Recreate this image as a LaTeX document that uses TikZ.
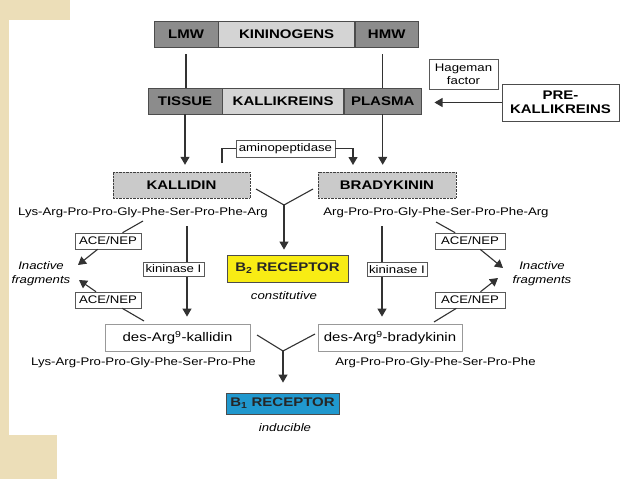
\documentclass[tikz,border=0pt]{standalone}
\usepackage{fontspec}
\setmainfont{Liberation Sans}[FakeStretch=1.2]
\usetikzlibrary{positioning,arrows.meta}

\definecolor{barDark}{RGB}{140,140,140}
\definecolor{barLight}{RGB}{212,212,212}
\definecolor{pepGray}{RGB}{202,202,202}
\definecolor{recYellow}{RGB}{248,236,20}
\definecolor{recBlue}{RGB}{32,152,206}
\definecolor{slideBeige}{RGB}{236,222,184}
\definecolor{lineGray}{RGB}{50,50,50}

\begin{document}
\begin{tikzpicture}[
    x=1pt,
    y=-1pt,
    bar/.style={
        rectangle,
        draw=gray!60!black,
        line width=0.6pt,
        minimum height=26pt,
        inner sep=0pt,
        font=\bfseries\fontsize{12.5}{14}\selectfont
    },
    dark/.style={bar, fill=barDark},
    light/.style={bar, fill=barLight},
    peptide/.style={
        rectangle,
        draw=gray!50!black,
        densely dotted,
        fill=pepGray,
        minimum height=26pt,
        inner sep=0pt,
        font=\bfseries\fontsize{12.5}{14}\selectfont
    },
    precursor/.style={
        rectangle,
        draw=gray!60!black,
        fill=white,
        align=center,
        inner sep=0pt,
        font=\bfseries\fontsize{12.5}{14}\selectfont
    },
    enzyme/.style={
        rectangle,
        draw=gray!70!black,
        fill=white,
        line width=0.6pt,
        inner sep=1pt,
        minimum height=16pt,
        font=\fontsize{11}{13}\selectfont
    },
    metab/.style={
        rectangle,
        draw=gray!80,
        fill=white,
        line width=0.8pt,
        minimum height=27pt,
        inner sep=0pt,
        font=\fontsize{12.5}{15}\selectfont
    },
    receptor/.style={
        rectangle,
        draw=gray!60!black,
        line width=0.8pt,
        inner sep=0pt,
        text=black!85,
        font=\bfseries\fontsize{12.5}{14}\selectfont
    },
    seq/.style={font=\fontsize{11}{13}\selectfont},
    note/.style={align=center, font=\itshape\fontsize{11}{14}\selectfont},
    link/.style={draw=lineGray, line width=1.1pt},
    flow/.style={
        link,
        ->,
        >={Triangle[length=8pt,width=9pt]}
    }
]

% Slide background
\useasboundingbox (0,0) rectangle (638,479);
\fill[white] (0,0) rectangle (638,479);
\fill[slideBeige] (0,0) rectangle (70,20);
\fill[slideBeige] (0,0) rectangle (9,479);
\fill[slideBeige] (0,435) rectangle (57,479);

% Kininogens and kallikreins
\node [dark, minimum width=64pt] (lmw) at (186,34) {LMW};
\node [light, minimum width=136pt, right=0pt of lmw] (kin) {KININOGENS};
\node [dark, minimum width=63pt, right=0pt of kin] (hmw) {HMW};

\node [dark, minimum width=74pt] (tissue) at (185,101) {TISSUE};
\node [light, minimum width=121pt, right=0pt of tissue] (kall) {KALLIKREINS};
\node [dark, minimum width=77pt, right=0pt of kall] (plasma) {PLASMA};

\node [enzyme, minimum width=69pt, minimum height=30pt, align=center] (hageman) at (463.5,74) {Hageman\\factor};
\node [precursor, minimum width=117pt, minimum height=37pt] (prekall) at (560.5,102.5) {PRE-\\KALLIKREINS};

% Kinins
\node [enzyme, minimum width=99pt, minimum height=17pt] (aminop) at (285.5,148.5) {aminopeptidase};
\node [peptide, minimum width=137pt] (kallidin) at (181.5,185) {KALLIDIN};
\node [peptide, minimum width=138pt] (brady) at (387,185) {BRADYKININ};
\node [seq] (seqk) at (143,213) {Lys-Arg-Pro-Pro-Gly-Phe-Ser-Pro-Phe-Arg};
\node [seq] (seqb) at (436,213) {Arg-Pro-Pro-Gly-Phe-Ser-Pro-Phe-Arg};

\node [receptor, fill=recYellow, minimum width=121pt, minimum height=27pt] (b2) at (287.5,268.5) {B\textsubscript{2} RECEPTOR};
\node [note] (constit) at (284,296) {constitutive};

% Degradation
\node [enzyme, minimum width=66pt] (acek1) at (108,241) {ACE/NEP};
\node [enzyme, minimum width=66pt] (acek2) at (108,300) {ACE/NEP};
\node [note] (inactk) at (41,274) {Inactive\\fragments};
\node [enzyme, minimum width=70pt] (aceb1) at (470,241) {ACE/NEP};
\node [enzyme, minimum width=70pt] (aceb2) at (470,300) {ACE/NEP};
\node [note] (inactb) at (542,274) {Inactive\\fragments};

% des-Arg9 metabolites
\node [metab, minimum width=145pt] (deskall) at (177.5,337.5) {des-Arg\textsuperscript{9}-kallidin};
\node [metab, minimum width=144pt] (desbrady) at (390,337.5) {des-Arg\textsuperscript{9}-bradykinin};
\node [seq] (seqdk) at (143.5,363) {Lys-Arg-Pro-Pro-Gly-Phe-Ser-Pro-Phe};
\node [seq] (seqdb) at (435.5,363) {Arg-Pro-Pro-Gly-Phe-Ser-Pro-Phe};

\node [receptor, fill=recBlue, minimum width=113pt, minimum height=21pt] (b1) at (282.5,403.5) {B\textsubscript{1} RECEPTOR};
\node [note] (induc) at (285,428) {inducible};

% Free ends
\coordinate (amL) at (222,163);
\coordinate (amR) at (353,165);
\coordinate (armK1) at (256,189);
\coordinate (armB1) at (313,189);
\coordinate (join1) at (284,205);
\coordinate (armK2) at (257,335);
\coordinate (armB2) at (315,334);
\coordinate (join2) at (283,351);
\coordinate (cutK1) at (143,221);
\coordinate (fragK1) at (78,265);
\coordinate (cutK2) at (144,321);
\coordinate (fragK2) at (79,280);
\coordinate (cutB1) at (436,222);
\coordinate (fragB1) at (503,268);
\coordinate (cutB2) at (434,322);
\coordinate (fragB2) at (498,278);
\coordinate (kinK) at (187,226);
\coordinate (kinB) at (382,226);

% Arrows
\draw [link, shorten <=7pt] (lmw.south) -- (lmw.south |- tissue.north);
\draw [link, shorten <=7pt] (plasma.north |- hmw.south) -- (plasma.north);
\draw [flow, shorten >=7pt] (tissue.south) -- (tissue.south |- kallidin.north);
\draw [flow, shorten >=7pt] (plasma.south) -- (plasma.south |- brady.north);
\draw [flow, shorten >=13pt] (prekall.west) -- (prekall.west -| plasma.east);

\draw [link] (amL) |- (aminop.west);
\draw [flow] (aminop.east) -| (amR);

\draw [link] (armK1) -- (join1) -- (armB1);
\draw [flow, shorten >=5pt] (join1) -- (join1 |- b2.north);

\draw [link] (cutK1) -- (acek1);
\draw [flow] (acek1) -- (fragK1);
\draw [link] (cutK2) -- (acek2);
\draw [flow] (acek2) -- (fragK2);
\draw [link] (cutB1) -- (aceb1);
\draw [flow] (aceb1) -- (fragB1);
\draw [link] (cutB2) -- (aceb2);
\draw [flow] (aceb2) -- (fragB2);

\draw [flow, shorten >=7pt] (kinK) -- (kinK |- deskall.north);
\draw [flow, shorten >=7pt] (kinB) -- (kinB |- desbrady.north);
\node [enzyme, minimum width=61pt, minimum height=14pt] (kininK) at (173.5,269) {kininase I};
\node [enzyme, minimum width=60pt, minimum height=14pt] (kininB) at (397,269.5) {kininase I};

\draw [link] (armK2) -- (join2) -- (armB2);
\draw [flow, shorten >=10pt] (join2) -- (join2 |- b1.north);

\end{tikzpicture}
\end{document}
